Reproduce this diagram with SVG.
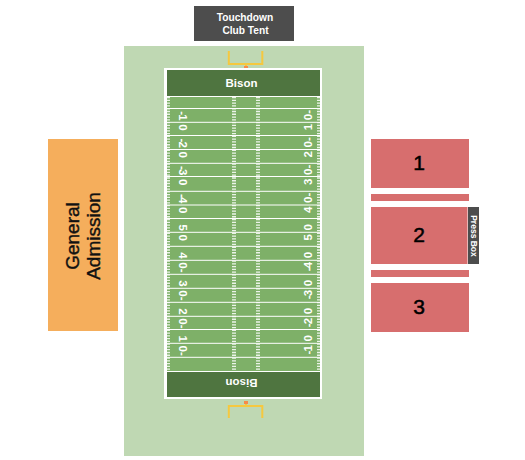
<svg xmlns="http://www.w3.org/2000/svg" width="525" height="460" viewBox="0 0 525 460">
<style>
text{font-family:"Liberation Sans",Arial,sans-serif}
.s{fill:#d76e6e}
.d{fill:#4d4d4d}
.n{font-size:21px;fill:#000;text-anchor:middle;stroke:#000;stroke-width:.5}
.w{fill:#fff;font-weight:bold;text-anchor:middle}
.yl{stroke:#fff;stroke-width:1}
.h{stroke:#fff;stroke-width:4;stroke-dasharray:1.3 1.47;opacity:.85}
.e{stroke:#fff;stroke-width:3;stroke-dasharray:1.3 1.47;opacity:.85}
.num{fill:#fff;font-weight:bold;font-size:11.500px}
.g{fill:none;stroke:#f5c83f;stroke-width:2}
.ga{font-size:19px;text-anchor:middle;fill:#111;stroke:#111;stroke-width:.4}
</style>
<rect width="525" height="460" fill="#fff"/>
<rect id="surround" x="124" y="46" width="240" height="410" fill="#bfd8b3"/>
<g id="tent"><rect class="d" x="194" y="6" width="100" height="35"/>
<text class="w" font-size="10.200" x="245" y="21">Touchdown</text>
<text class="w" font-size="10.200" x="245.500" y="34">Club Tent</text></g>
<g id="goal-top"><path class="g" d="M228.800 51V64H262.300V51M246 64V67"/><rect x="244" y="66" width="4" height="3" fill="#f58a4b"/></g>
<g id="goal-bottom"><path class="g" d="M228.800 418V406H262.300V418M246 406V403"/><rect x="244" y="401" width="4" height="3" fill="#f58a4b"/></g>
<g id="field">
<rect x="164" y="68" width="158" height="331" fill="#fff"/>
<rect x="167" y="70" width="153" height="327" fill="#7eb068"/>
<rect x="167" y="70" width="153" height="26" fill="#4f7540"/>
<rect x="167" y="372" width="153" height="25" fill="#4f7540"/>
<rect x="167" y="96" width="153" height="1" fill="#fff"/>
<rect x="167" y="371" width="153" height="1" fill="#fff"/>
<g class="yl">
<path d="M167 108.500H320M167 122.300H320M167 135.500H320M167 149.500H320M167 163.300H320M167 176.500H320M167 191.300H320M167 205H320M167 218.500H320M167 232.300H320M167 246.300H320M167 260.300H320M167 274.300H320M167 288.300H320M167 302.300H320M167 316.300H320M167 329.500H320M167 343.300H320M167 357.300H320"/>
</g>
<path class="h" d="M234 97V371M258 97V371"/>
<path class="e" d="M168.500 97V371M318.500 97V371"/>
<text class="w" font-size="11.500" x="241.500" y="87">Bison</text>
<text class="w" font-size="11.500" transform="translate(241.500 379) rotate(180)">Bison</text>
<g class="num">
<text transform="translate(183 122.300) rotate(90)" x="-11 -8 2" y="4">-10</text>
<text transform="translate(183 149.500) rotate(90)" x="-11 -8 2" y="4">-20</text>
<text transform="translate(183 177) rotate(90)" x="-11 -8 2" y="4">-30</text>
<text transform="translate(183 205) rotate(90)" x="-11 -8 2" y="4">-40</text>
<text transform="translate(183 232.500) rotate(90)" x="-8 2" y="4">50</text>
<text transform="translate(183 260.300) rotate(90)" x="-8 2 8.500" y="4">40-</text>
<text transform="translate(183 288.300) rotate(90)" x="-8 2 8.500" y="4">30-</text>
<text transform="translate(183 316.300) rotate(90)" x="-8 2 8.500" y="4">20-</text>
<text transform="translate(183 343.500) rotate(90)" x="-8 2 8.500" y="4">10-</text>
<text transform="translate(308 122.300) rotate(-90)" x="-8 2 8.500" y="4">10-</text>
<text transform="translate(308 149.500) rotate(-90)" x="-8 2 8.500" y="4">20-</text>
<text transform="translate(308 177) rotate(-90)" x="-8 2 8.500" y="4">30-</text>
<text transform="translate(308 205) rotate(-90)" x="-8 2 8.500" y="4">40-</text>
<text transform="translate(308 232.500) rotate(-90)" x="-8 2" y="4">50</text>
<text transform="translate(308 260.300) rotate(-90)" x="-11 -8 2" y="4">-40</text>
<text transform="translate(308 288.300) rotate(-90)" x="-11 -8 2" y="4">-30</text>
<text transform="translate(308 316.300) rotate(-90)" x="-11 -8 2" y="4">-20</text>
<text transform="translate(308 343.500) rotate(-90)" x="-11 -8 2" y="4">-10</text>
</g>
</g>
<g id="general-admission"><rect x="48" y="139" width="70" height="192" fill="#f5ae5c"/>
<text class="ga" transform="translate(79 236) rotate(-90)">General</text>
<text class="ga" transform="translate(100 236) rotate(-90)">Admission</text></g>
<g id="section-1"><rect class="s" x="371" y="139" width="98" height="49"/><text class="n" x="419" y="170">1</text></g>
<rect id="strip-a" class="s" x="371" y="194" width="98" height="7"/>
<g id="section-2"><rect class="s" x="371" y="207" width="96.500" height="57"/><text class="n" x="419" y="242">2</text></g>
<rect id="strip-b" class="s" x="371" y="270" width="98" height="7"/>
<g id="section-3"><rect class="s" x="371" y="283" width="98" height="49"/><text class="n" x="419" y="313.500">3</text></g>
<g id="press-box"><rect class="d" x="468" y="207" width="11" height="57"/>
<text class="w" font-size="8.500" transform="translate(470.500 236) rotate(90)">Press Box</text></g>
</svg>
